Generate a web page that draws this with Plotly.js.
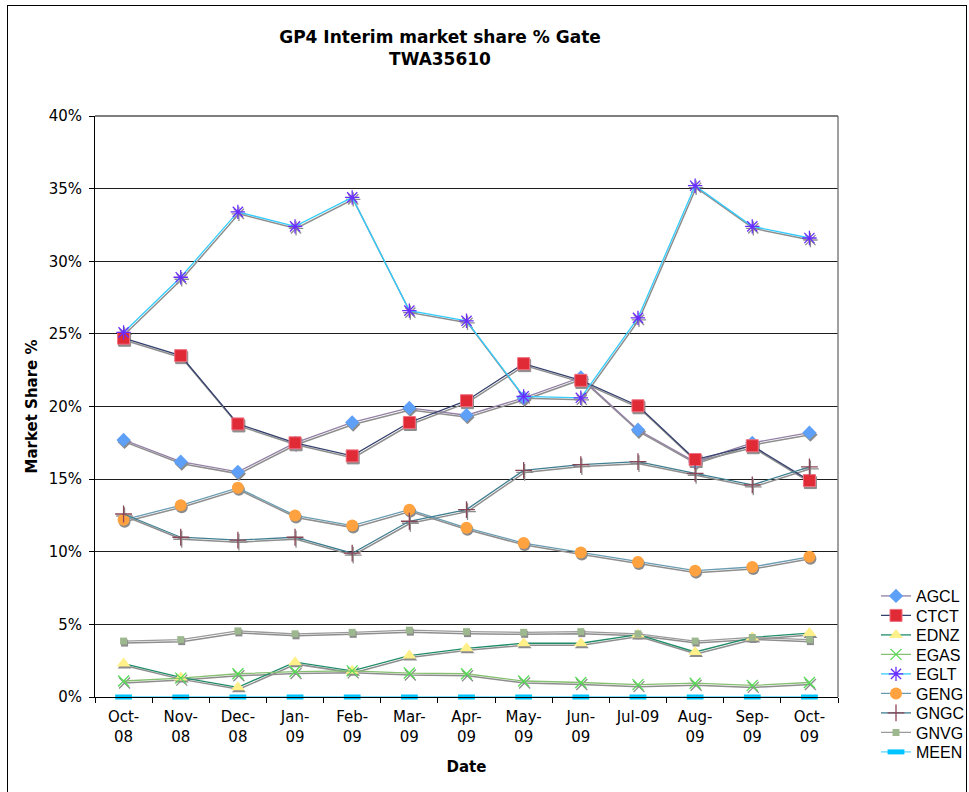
<!DOCTYPE html>
<html>
<head>
<meta charset="utf-8">
<script src="https://cdn.plot.ly/plotly-3.0.1.min.js"></script>
<style>
  html, body { margin: 0; padding: 0; background: #fff; }
  #chart { width: 969px; height: 792px; }
  #frame { position: absolute; left: 7px; top: 5px; width: 958px; height: 900px; border: 1px solid #000; pointer-events: none; }
</style>
</head>
<body>
<div id="chart"></div>
<div id="frame"></div>
<script>
// ---- data (market share %) ----
const months = ['Oct-08','Nov-08','Dec-08','Jan-09','Feb-09','Mar-09','Apr-09','May-09','Jun-09','Jul-09','Aug-09','Sep-09','Oct-09'];
const tickLabels = ['Oct-<br>08','Nov-<br>08','Dec-<br>08','Jan-<br>09','Feb-<br>09','Mar-<br>09','Apr-<br>09','May-<br>09','Jun-<br>09','Jul-09','Aug-<br>09','Sep-<br>09','Oct-<br>09'];
const AGCL = [17.7, 16.2, 15.5, 17.5, 18.9, 19.9, 19.4, 20.6, 22.0, 18.4, 16.2, 17.5, 18.2];
const CTCT = [24.7, 23.5, 18.8, 17.5, 16.6, 18.9, 20.4, 22.95, 21.8, 20.05, 16.35, 17.3, 14.9];
const EDNZ = [2.3, 1.35, 0.67, 2.4, 1.8, 2.85, 3.35, 3.7, 3.7, 4.3, 3.1, 4.1, 4.4];
const EGAS = [1.1, 1.3, 1.6, 1.75, 1.8, 1.65, 1.6, 1.1, 1.0, 0.85, 0.95, 0.8, 1.0];
const EGLT = [25.1, 28.9, 33.4, 32.4, 34.4, 26.6, 25.9, 20.7, 20.6, 26.1, 35.2, 32.4, 31.6];
const GENG = [12.2, 13.2, 14.4, 12.5, 11.8, 12.9, 11.65, 10.6, 9.95, 9.3, 8.7, 8.95, 9.65];
const GNGC = [12.6, 11.0, 10.8, 11.0, 9.9, 12.1, 12.9, 15.6, 16.0, 16.2, 15.4, 14.6, 15.85];
const GNVG = [3.85, 3.95, 4.55, 4.35, 4.45, 4.6, 4.5, 4.45, 4.5, 4.35, 3.85, 4.1, 3.95];
const MEEN = [0, 0, 0, 0, 0, 0, 0, 0, 0, 0, 0, 0, 0];

// ---- styles ----
const seriesDefs = [
  {name: 'AGCL', y: AGCL, line: '#9380A6', marker: {symbol: 'diamond', size: 11, color: '#5EA0F8', line: {width: 0}}},
  {name: 'CTCT', y: CTCT, line: '#34406E', marker: {symbol: 'square', size: 12, color: '#E02A36', line: {width: 1, color: '#F07080'}}},
  {name: 'EDNZ', y: EDNZ, line: '#1F8C6A', marker: {symbol: 'triangle-up', size: 12, color: '#FFF08A', line: {width: 0}}},
  {name: 'EGAS', y: EGAS, line: '#86C070', marker: {symbol: 'x-thin-open', size: 11, color: '#55DD55', line: {width: 1.3, color: '#55DD55'}}},
  {name: 'EGLT', y: EGLT, line: '#33CCFF', marker: {symbol: 'asterisk-open', size: 12, color: '#6A2CFF', line: {width: 1.3, color: '#6A2CFF'}}},
  {name: 'GENG', y: GENG, line: '#6A9CB2', marker: {symbol: 'circle', size: 12, color: '#FFA23F', line: {width: 0}}},
  {name: 'GNGC', y: GNGC, line: '#3F7E90', marker: {symbol: 'cross-thin-open', size: 12, color: '#8A4656', line: {width: 1.3, color: '#8A4656'}}},
  {name: 'GNVG', y: GNVG, line: '#9A9A9A', marker: {symbol: 'square', size: 7, color: '#9DB88E', line: {width: 0}}},
  {name: 'MEEN', y: MEEN, line: '#5AD6FF', marker: {symbol: 'line-ew', size: 12, color: '#00C4FF', line: {width: 5, color: '#00C4FF'}}}
];

const W = 969, H = 792;
const M = {l: 95, r: 131, t: 116, b: 95};
const plotW = W - M.l - M.r, plotH = H - M.t - M.b;
const xRange = [-0.5, 12.5], yRange = [0, 40];
const shadowDx = 1 * (xRange[1] - xRange[0]) / plotW;
const shadowDy = 2 * (yRange[1] - yRange[0]) / plotH;

const legendTop = 596, legendStep = 19.5, legendX = 876;

const traces = [];
// shadows
seriesDefs.forEach(s => {
  const m = JSON.parse(JSON.stringify(s.marker));
  m.color = '#8C8C8C';
  if (m.line) m.line.color = '#8C8C8C';
  traces.push({
    type: 'scatter', mode: 'lines+markers', x: months, y: s.y,
    xaxis: 'x2', yaxis: 'y2', showlegend: false, hoverinfo: 'skip',
    line: {color: '#8E8E8E', width: 1.5}, marker: m, cliponaxis: false
  });
});
// main series, each in its own legend box for precise spacing
seriesDefs.forEach((s, i) => {
  traces.push({
    type: 'scatter', mode: 'lines+markers', name: s.name, x: months, y: s.y,
    xaxis: 'x3', yaxis: 'y3', legend: i === 0 ? 'legend' : 'legend' + (i + 1),
    line: {color: s.line, width: 1.3}, marker: s.marker, cliponaxis: false
  });
});
// invisible base trace to keep main axes active
traces.push({type: 'scatter', mode: 'lines', x: months, y: MEEN, showlegend: false, hoverinfo: 'skip', line: {width: 0, color: 'rgba(0,0,0,0)'}});

const tickFont = {family: 'DejaVu Sans, Verdana, sans-serif', size: 15, color: '#000'};
const layout = {
  width: W, height: H,
  margin: M,
  paper_bgcolor: '#fff', plot_bgcolor: '#fff',
  showlegend: true,
  title: {
    text: '<b>GP4 Interim market share % Gate<br>TWA35610</b>',
    font: {family: 'DejaVu Sans, Verdana, sans-serif', size: 17, color: '#000'},
    x: 440 / W, xref: 'container', xanchor: 'center',
    y: 1 - 43 / H, yref: 'container', yanchor: 'top'
  },
  xaxis: {
    type: 'category', categoryorder: 'array', categoryarray: months,
    range: xRange, tickvals: months, ticktext: tickLabels,
    tickson: 'boundaries', ticks: 'outside', ticklen: 5, tickcolor: '#000', tickwidth: 1,
    ticklabelstandoff: 6,
    showline: true, linecolor: '#000', linewidth: 1, showgrid: false, zeroline: false,
    tickfont: tickFont, fixedrange: true,
    title: {text: '<b>Date</b>', font: {family: 'DejaVu Sans, Verdana, sans-serif', size: 15, color: '#000'}, standoff: 16},
    mirror: false
  },
  yaxis: {
    range: yRange, dtick: 5, ticksuffix: '%',
    ticks: 'outside', ticklen: 5, tickcolor: '#000', tickwidth: 1,
    ticklabelstandoff: 4,
    showline: true, linecolor: '#000', linewidth: 1,
    showgrid: true, gridcolor: '#1E1E1E', gridwidth: 1, zeroline: false,
    tickfont: tickFont, fixedrange: true,
    title: {text: '<b>Market Share %</b>', font: {family: 'DejaVu Sans, Verdana, sans-serif', size: 15, color: '#000'}, standoff: 7}
  },
  xaxis2: {type: 'category', categoryorder: 'array', categoryarray: months, overlaying: 'x', range: [xRange[0] - shadowDx, xRange[1] - shadowDx], visible: false, fixedrange: true},
  yaxis2: {overlaying: 'y', range: [yRange[0] + shadowDy, yRange[1] + shadowDy], visible: false, fixedrange: true},
  xaxis3: {type: 'category', categoryorder: 'array', categoryarray: months, overlaying: 'x', range: xRange, visible: false, fixedrange: true},
  yaxis3: {overlaying: 'y', range: yRange, visible: false, fixedrange: true},
  shapes: [
    {type: 'line', xref: 'paper', yref: 'paper', x0: 1, x1: 1, y0: 0, y1: 1, line: {color: '#808080', width: 1.5}},
    {type: 'line', xref: 'paper', yref: 'paper', x0: 0, x1: 1, y0: 1, y1: 1, line: {color: '#555', width: 1.5}}
  ],
  hovermode: false
};
seriesDefs.forEach((s, i) => {
  const key = i === 0 ? 'legend' : 'legend' + (i + 1);
  layout[key] = {
    xref: 'container', yref: 'container',
    x: legendX / W, xanchor: 'left',
    y: 1 - (legendTop + i * legendStep) / H, yanchor: 'middle',
    font: {family: 'Liberation Sans, Arial, sans-serif', size: 16, color: '#000'},
    bgcolor: 'rgba(0,0,0,0)', borderwidth: 0, itemwidth: 30
  };
});

Plotly.newPlot('chart', traces, layout, {displayModeBar: false, staticPlot: true});
</script>
</body>
</html>
